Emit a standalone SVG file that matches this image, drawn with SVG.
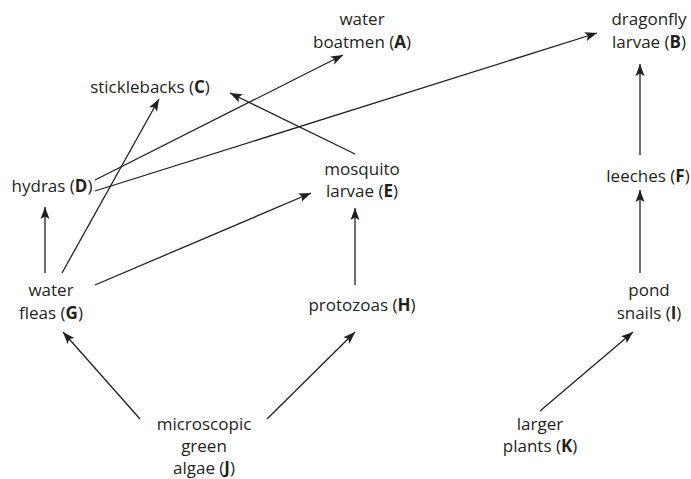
<svg xmlns="http://www.w3.org/2000/svg" width="691" height="479" viewBox="0 0 691 479">
<defs>
<marker id="ah" viewBox="0 0 12 10" refX="12" refY="5" markerWidth="12" markerHeight="10" markerUnits="userSpaceOnUse" orient="auto">
<path d="M0,0.5 L12,5 L0,9.5 L2.5,5 z" fill="#231f20"/>
</marker>
<style>
text{font-family:"Open Sans","Noto Sans","Liberation Sans",sans-serif;font-size:17px;fill:#231f20;text-anchor:middle}
tspan.b{font-weight:bold}
.e{stroke:#231f20;stroke-width:1.3;fill:none;marker-end:url(#ah)}
</style>
</defs>
<rect width="691" height="479" fill="#fff"/>
<g id="connectors">
<line class="e" x1="95" y1="180" x2="343" y2="55"/>
<line class="e" x1="95" y1="191" x2="597" y2="33"/>
<line class="e" x1="62" y1="273" x2="159" y2="99"/>
<line class="e" x1="355" y1="154" x2="230" y2="93"/>
<line class="e" x1="95" y1="285" x2="311" y2="193"/>
<line class="e" x1="45" y1="273" x2="45" y2="207"/>
<line class="e" x1="355" y1="285" x2="355" y2="208"/>
<line class="e" x1="640" y1="155" x2="640" y2="64"/>
<line class="e" x1="640" y1="273" x2="640" y2="190"/>
<line class="e" x1="140" y1="419" x2="63" y2="332"/>
<line class="e" x1="267" y1="419" x2="355" y2="332"/>
<line class="e" x1="540" y1="411" x2="633" y2="332"/>
</g>
<g id="A"><text x="362" y="25">water</text><text x="362" y="48">boatmen (<tspan class="b">A</tspan>)</text></g>
<g id="B"><text x="649" y="25">dragonfly</text><text x="649" y="48">larvae (<tspan class="b">B</tspan>)</text></g>
<g id="C"><text x="150" y="93">sticklebacks (<tspan class="b">C</tspan>)</text></g>
<g id="D"><text x="52" y="192">hydras (<tspan class="b">D</tspan>)</text></g>
<g id="E"><text x="362" y="175">mosquito</text><text x="362" y="197">larvae (<tspan class="b">E</tspan>)</text></g>
<g id="F"><text x="648" y="182">leeches (<tspan class="b">F</tspan>)</text></g>
<g id="G"><text x="51" y="296">water</text><text x="51" y="319">fleas (<tspan class="b">G</tspan>)</text></g>
<g id="H"><text x="362" y="311">protozoas (<tspan class="b">H</tspan>)</text></g>
<g id="I"><text x="649" y="296">pond</text><text x="649" y="319">snails (<tspan class="b">I</tspan>)</text></g>
<g id="J"><text x="204" y="430">microscopic</text><text x="204" y="452">green</text><text x="204" y="474">algae (<tspan class="b">J</tspan>)</text></g>
<g id="K"><text x="540" y="430">larger</text><text x="540" y="452">plants (<tspan class="b">K</tspan>)</text></g>
</svg>
